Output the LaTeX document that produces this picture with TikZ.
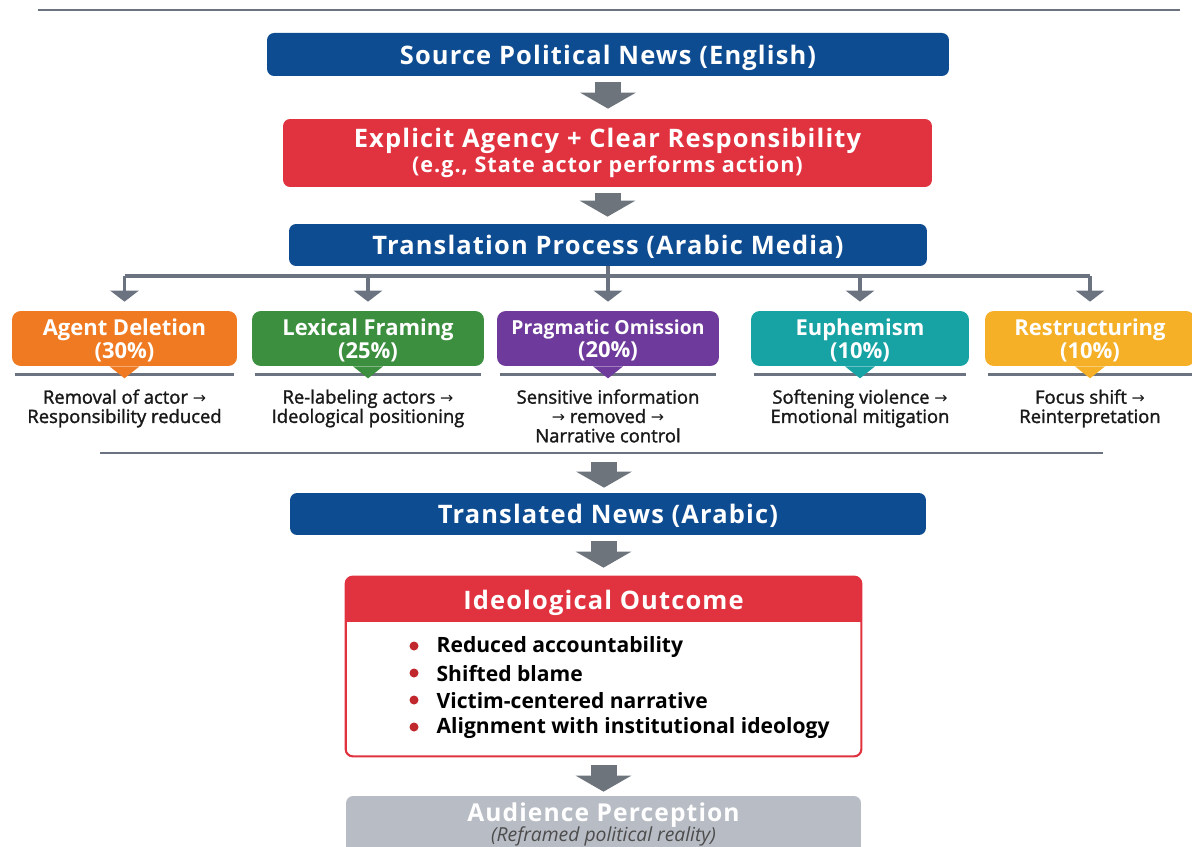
\documentclass[tikz,border=0pt]{standalone}
\usepackage{fontspec}
\setmainfont{Open Sans}
\newfontfamily\headfont[LetterSpace=4.5]{Open Sans}
\newfontfamily\descfont[FakeBold=1.6]{Open Sans}
\newfontfamily\symfont{DejaVu Sans}
\usetikzlibrary{arrows.meta,calc}

\definecolor{navy}{HTML}{0E4C92}
\definecolor{crimson}{HTML}{E0323F}
\definecolor{orangeA}{HTML}{F07A22}
\definecolor{greenA}{HTML}{3C8F3E}
\definecolor{purpleA}{HTML}{6E3A9B}
\definecolor{tealA}{HTML}{17A2A4}
\definecolor{amberA}{HTML}{F5B027}
\definecolor{arrowgray}{HTML}{6D747C}
\definecolor{rulegray}{HTML}{6B7380}
\definecolor{audgray}{HTML}{B8BCC4}
\definecolor{bulletred}{HTML}{C0282E}

\newcommand{\ra}{{\symfont\fontsize{9}{10}\selectfont →}}

\tikzset{
  bar/.style={rounded corners=4pt, text=white, align=center, inner sep=0pt,
    font=\headfont\bfseries\fontsize{14.5}{16}\selectfont},
  tech/.style={rounded corners=5pt, text=white, align=center, inner sep=0pt,
    minimum height=1.1cm, text depth=0pt, font=\bfseries\fontsize{12.5}{13}\selectfont},
  desc/.style={anchor=north, align=center, text=black!90,
    font=\descfont\fontsize{10.5}{11}\selectfont},
  flow/.style={draw=arrowgray, line width=0.52cm,
    -{Triangle[width=1.1cm,length=0.32cm]}},
  branch/.style={draw=rulegray, line width=2pt,
    -{Triangle[width=0.56cm,length=0.22cm]}},
  guide/.style={draw=rulegray, line width=1.4pt},
}

\begin{document}
\begin{tikzpicture}[x=0.02cm, y=-0.02cm]
\useasboundingbox (0,0) rectangle (1192,847);

% Top guide
\draw[guide, line width=0.8pt] (38,10) -- (1180,10);

% Source and translation chain
\node[bar, fill=navy, minimum width=13.64cm, minimum height=0.86cm, text depth=0pt]
      (source) at (608,54.5) {Source Political News (English)};
\node[bar, fill=crimson, minimum width=12.98cm, minimum height=1.36cm]
      (agency) at (607.5,153) {Explicit Agency + Clear Responsibility\\[-2pt]
      {\fontsize{12.3}{14}\selectfont (e.g., State actor performs action)}};
\node[bar, fill=navy, minimum width=12.76cm, minimum height=0.84cm, text depth=0pt]
      (process) at (608,245) {Translation Process (Arabic Media)};

\draw[flow, shorten <=0.12cm, shorten >=0.2cm] (source.south) -- (source.south |- agency.north);
\draw[flow, shorten <=0.12cm, shorten >=0.14cm] (agency.south) -- (agency.south |- process.north);

% Strategies
\foreach \name/\x/\w/\col/\title/\pct/\desc in {
agent/124.5/4.5/orangeA/Agent Deletion/30/Removal of actor \ra\\Responsibility reduced,
lexical/368/4.64/greenA/Lexical Framing/25/Re-labeling actors \ra\\Ideological positioning,
pragma/608/4.44/purpleA/{\fontsize{11}{13}\selectfont Pragmatic Omission}/20/Sensitive information\\\ra{} removed \ra\\Narrative control,
euph/860/4.36/tealA/Euphemism/10/Softening violence \ra\\Emotional mitigation,
restr/1090/4.2/amberA/Restructuring/10/Focus shift \ra\\Reinterpretation
} {
  \node[tech, fill=\col, minimum width=\w cm] (\name) at (\x,338.5) {\title\\(\pct\%)};
  \draw[guide] ($(\name.south west)+(3,8)$) -- ($(\name.south east)+(-3,8)$);
  \fill[\col] ($(\name.south)+(-15,0)$) -- ($(\name.south)+(15,0)$) -- ($(\name.south)+(0,12)$) -- cycle;
  \node[desc] (\name txt) at ($(\name.south)+(0,17)$) {\desc};
}

% Branching
\coordinate (bus) at (608,276);
\draw[guide, line width=2pt] (process.south) -- (bus);
\draw[guide, line width=2pt] (agent.north |- bus) -- (restr.north |- bus);
\foreach \b in {agent,lexical,pragma,euph,restr} {
  \draw[branch, shorten >=0.18cm] (\b.north |- bus) -- (\b.north);
}

% Lower guide
\draw[guide] (100,453) -- (1103,453);
\coordinate (split) at (604,453);

\node[bar, fill=navy, minimum width=12.72cm, minimum height=0.84cm, text depth=0pt]
      (translated) at (608,514) {Translated News (Arabic)};
\draw[flow, shorten <=0.18cm, shorten >=0.1cm] (split) -- (split |- translated.north);

% Outcome
\node[fill=white, minimum width=10.3cm, minimum height=3.58cm, inner sep=0pt]
      (outcome) at (603.5,666.5) {};
\begin{scope}
  \clip[rounded corners=4pt] (outcome.north west) rectangle (outcome.south east);
  \fill[crimson] (outcome.north west) rectangle ($(outcome.north east)+(0,45)$);
\end{scope}
\draw[crimson, line width=1.2pt, rounded corners=4pt] (outcome.north west) rectangle (outcome.south east);
\node[text=white, inner sep=0pt, text depth=0pt, font=\headfont\bfseries\fontsize{14.5}{16}\selectfont]
      (outtitle) at (603.5,600) {Ideological Outcome};
\foreach \i/\txt in {0/Reduced accountability, 1/Shifted blame,
                     2/Victim-centered narrative, 3/Alignment with institutional ideology} {
  \fill[bulletred] (414,646+27*\i) circle (4.5);
  \node[anchor=west, inner sep=3pt, font=\bfseries\fontsize{12}{14}\selectfont] (item\i) at (431,647+27*\i) {\txt};
}
\draw[flow, shorten <=0.12cm, shorten >=0.18cm] (translated.south -| outcome.north) -- (outcome.north);

% Audience
\node[fill=audgray, rounded corners=4pt, minimum width=10.3cm, minimum height=1.28cm, inner sep=0pt]
      (audience) at (603.5,828) {};
\node[inner sep=0pt, text=white, font=\headfont\bfseries\fontsize{14}{16}\selectfont]
      (audtitle) at (603.5,815) {Audience Perception};
\node[inner sep=0pt, text=black!70, font=\itshape\fontsize{11}{13}\selectfont]
      (audsub) at (603.5,836) {(Reframed political reality)};
\draw[flow, shorten <=0.18cm, shorten >=0.08cm] (outcome.south) -- (audience.north);

\end{tikzpicture}
\end{document}
